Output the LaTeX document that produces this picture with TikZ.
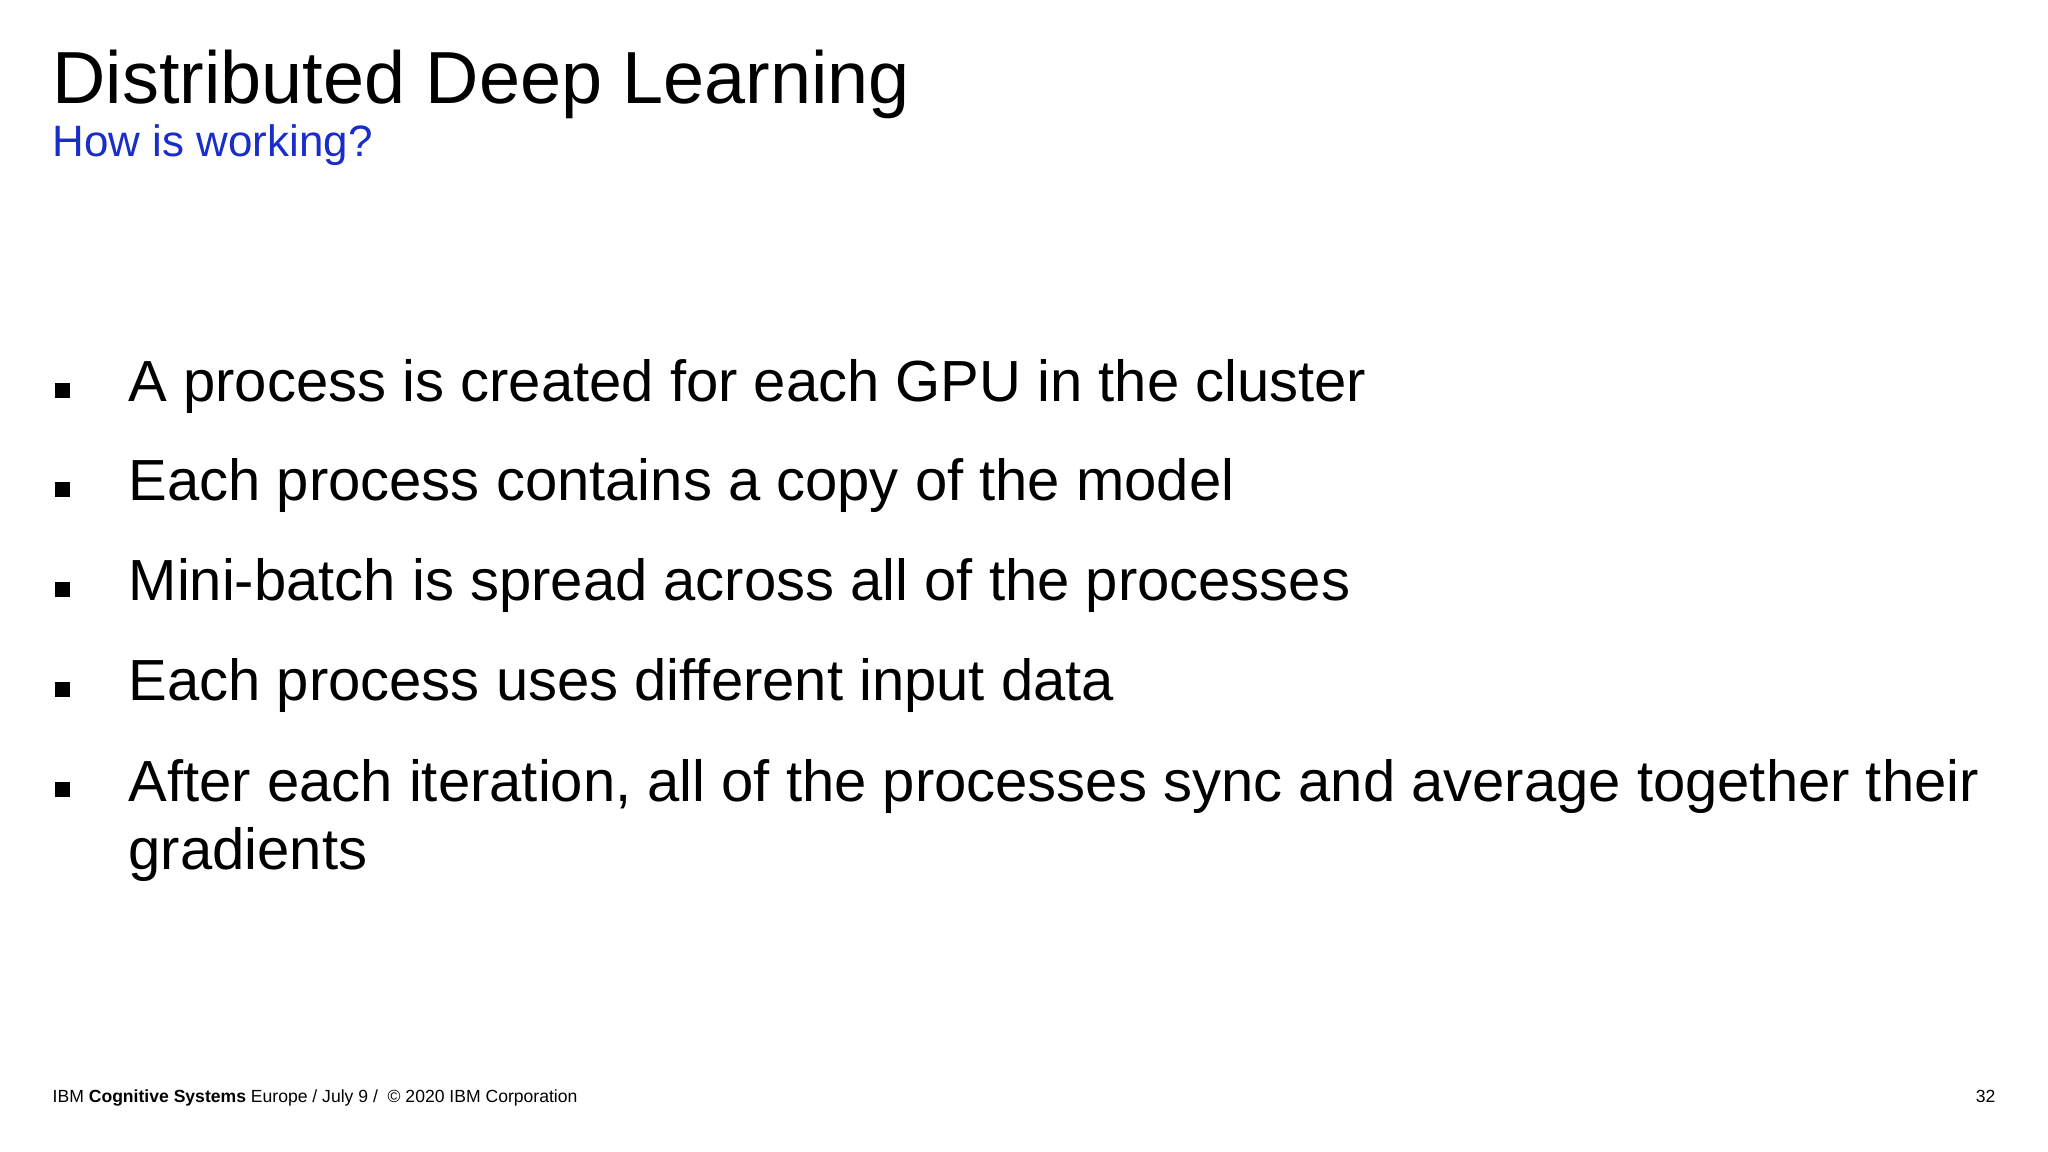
\documentclass[tikz,border=0pt]{standalone}
\usepackage{fontspec}
\setmainfont{Liberation Sans}
\definecolor{subblue}{RGB}{25,45,200}
\begin{document}
\begin{tikzpicture}[x=1cm,y=1cm,
  txt/.style={anchor=base west,inner sep=0pt},
  bul/.style={txt,font=\fontsize{16.5pt}{20pt}\selectfont},
  sq/.style={fill=black,minimum size=0.15cm,inner sep=0pt}]
\useasboundingbox[fill=white] (0,0) rectangle (20.48,-11.52);
\node[txt,font=\fontsize{21pt}{25pt}\selectfont] (title) at (0.52,-1.04) {Distributed Deep Learning};
\node[txt,font=\fontsize{12.5pt}{15pt}\selectfont,text=subblue] (sub) at (0.52,-1.57) {How is working?};
\foreach \y/\t [count=\i] in {4.02/{A process is created for each GPU in the cluster},
  5.01/{Each process contains a copy of the model},
  6.01/{Mini-batch is spread across all of the processes},
  7.01/{Each process uses different input data},
  8.01/{After each iteration, all of the processes sync and average together their}}{
  \node[bul] (b\i) at (1.28,-\y) {\t};
  \node[sq] (s\i) at (0.625,-\y+0.11) {};
}
\node[bul] (b6) at (1.28,-8.69) {gradients};
\node[txt,font=\fontsize{5pt}{6pt}\selectfont] (foot) at (0.52,-11.02) {IBM \textbf{Cognitive Systems} Europe / July 9 /\ \ \textcopyright\ 2020 IBM Corporation};
\node[anchor=base east,inner sep=0pt,font=\fontsize{5pt}{6pt}\selectfont] (pg) at (19.96,-11.02) {32};
\end{tikzpicture}
\end{document}
